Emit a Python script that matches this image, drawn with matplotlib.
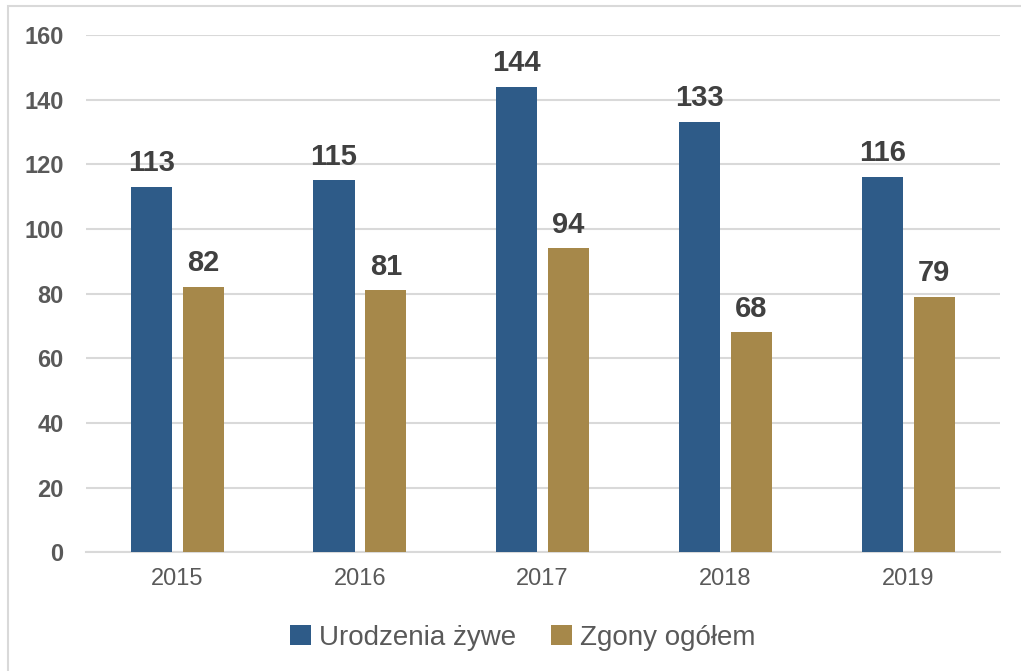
import numpy as np
import matplotlib.pyplot as plt
from matplotlib.patches import Rectangle

plt.rcParams['font.family'] = ['Liberation Sans', 'DejaVu Sans']

# Dane
years = ['2015', '2016', '2017', '2018', '2019']
urodzenia = [113, 115, 144, 133, 116]
zgony = [82, 81, 94, 68, 79]
series_names = ['Urodzenia żywe', 'Zgony ogółem']
y_ticks = [0, 20, 40, 60, 80, 100, 120, 140, 160]

blue = '#2E5B88'
gold = '#A6884A'
grid_col = '#D9D9D9'

fig = plt.figure(figsize=(10.21, 6.71), dpi=100)
ax = fig.add_axes([0.084, 0.177, 0.895, 0.771])

x = np.arange(len(years))
w = 0.225
off = 0.142
b1 = ax.bar(x - off, urodzenia, w, color=blue, label=series_names[0], zorder=3)
b2 = ax.bar(x + off, zgony, w, color=gold, label=series_names[1], zorder=3)

# Etykiety danych
for bars in (b1, b2):
    for r in bars:
        ax.text(r.get_x() + r.get_width() / 2, r.get_height() + 3, f'{r.get_height():.0f}',
                ha='center', va='bottom', fontsize=21, fontweight='bold', color='#404040')

ax.set_xlim(-0.5, len(years) - 0.5)
ax.set_ylim(0, 160)
ax.set_yticks(y_ticks)
ax.set_xticks(x)
ax.set_xticklabels(years)
ax.yaxis.grid(True, color=grid_col, linewidth=1.5, zorder=0)
ax.set_axisbelow(True)
for s in ['top', 'right', 'left']:
    ax.spines[s].set_visible(False)
ax.spines['bottom'].set_color(grid_col)
ax.spines['bottom'].set_linewidth(1.5)
ax.tick_params(axis='both', length=0)
ax.tick_params(axis='y', labelsize=17, labelcolor='#595959', pad=16)
ax.tick_params(axis='x', labelsize=17, labelcolor='#595959', pad=11)
for lab in ax.get_yticklabels():
    lab.set_fontweight('bold')

ax.legend(loc='center', bbox_to_anchor=(0.478, -0.165), ncol=2, frameon=False,
          fontsize=20, labelcolor='#595959', handlelength=0.75, handleheight=0.75,
          handletextpad=0.3, columnspacing=1.25)

# Ramka wykresu
fig.patches.append(Rectangle((8 / 1021, -0.05), 1.1, 1 - 6 / 671 + 0.05,
                             transform=fig.transFigure, fill=False,
                             edgecolor=grid_col, linewidth=1.5))

fig.savefig('out.png', dpi=100)
